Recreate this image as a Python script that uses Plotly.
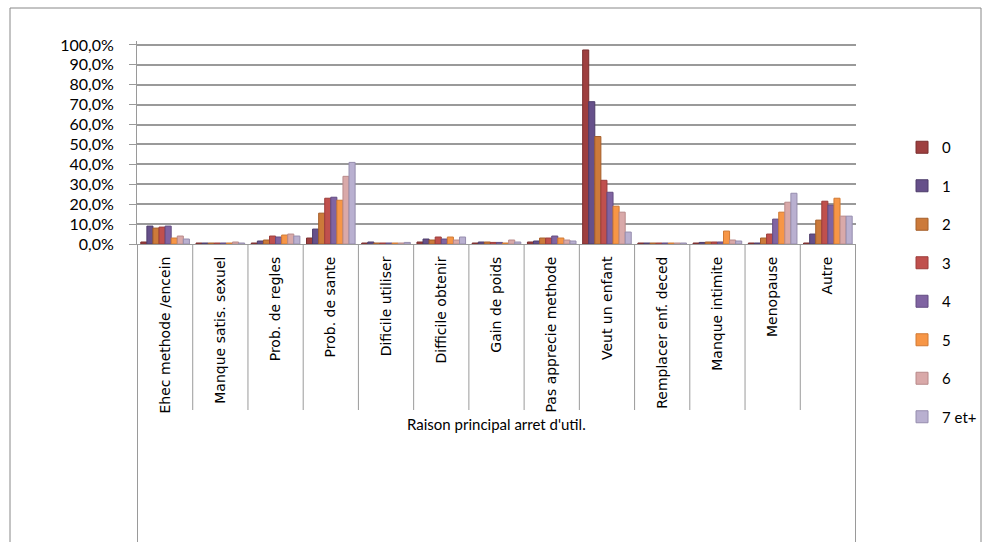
import plotly.graph_objects as go

# Reasons for stopping contraception (one group per reason)
categories = [
    "Ehec methode /encein", "Manque satis. sexuel", "Prob. de regles",
    "Prob. de sante", "Dificile utiliser", "Difficile obtenir",
    "Gain de poids", "Pas apprecie methode", "Veut un enfant",
    "Remplacer enf. deced", "Manque intimite", "Menopause", "Autre",
]

# Series: number of living children
series_names = ["0", "1", "2", "3", "4", "5", "6", "7 et+"]

# Percentages per series, in category order
s0 = [1.0, 0.5, 0.5, 3.0, 0.5, 1.0, 0.5, 1.0, 97.5, 0.5, 0.5, 0.5, 0.5]
s1 = [9.0, 0.5, 1.5, 7.5, 1.0, 2.5, 1.0, 1.5, 71.5, 0.5, 0.8, 0.5, 5.0]
s2 = [8.0, 0.5, 2.0, 15.5, 0.5, 2.0, 1.0, 3.0, 54.0, 0.5, 1.0, 3.0, 12.0]
s3 = [8.5, 0.5, 4.0, 23.0, 0.5, 3.5, 0.8, 3.0, 32.0, 0.5, 1.0, 5.0, 21.5]
s4 = [9.0, 0.5, 3.5, 23.5, 0.5, 2.5, 0.8, 4.0, 26.0, 0.5, 1.0, 12.5, 19.5]
s5 = [3.0, 0.5, 4.5, 22.0, 0.5, 3.5, 0.5, 3.0, 19.0, 0.5, 6.5, 16.0, 23.0]
s6 = [4.0, 1.0, 5.0, 34.0, 0.5, 2.0, 2.0, 2.0, 16.0, 0.5, 2.0, 21.0, 14.0]
s7 = [2.5, 0.5, 4.0, 41.0, 0.8, 3.5, 1.0, 1.5, 6.0, 0.5, 1.5, 25.5, 14.0]
series_values = [s0, s1, s2, s3, s4, s5, s6, s7]

y_tick_values = [0, 10, 20, 30, 40, 50, 60, 70, 80, 90, 100]
y_tick_text = [f"{v:.1f}%".replace(".", ",") for v in y_tick_values]
group_title = "Raison principal arret d'util."

fill_colors = ["#9E3F3F", "#66508A", "#CC7A3A", "#C0504D",
               "#8064A2", "#F79646", "#D9A9A9", "#B9B0D0"]
edge_colors = ["#7A2E2E", "#4D3C6A", "#A55F2A", "#9C3C3A",
               "#634C82", "#D07A34", "#B88A8A", "#968DAE"]

fig = go.Figure()
for name, vals, fc, ec in zip(series_names, series_values, fill_colors, edge_colors):
    fig.add_trace(go.Bar(
        x=categories, y=vals, name=name, legendgroup=name,
        marker=dict(color=fc, line=dict(color=ec, width=1)),
    ))

axis_grey = "#9A9A9A"
plot_w = 719.0  # plot area size in px, used to express offsets in paper units
plot_h = 203.0

shapes = []
# Separators between categories below the axis
n = len(categories)
for i in range(n + 1):
    outer = i in (0, n)
    shapes.append(dict(
        type="line", xref="x", yref="paper",
        x0=i - 0.5, x1=i - 0.5, y0=0,
        y1=-(300.0 / plot_h) if outer else -(166.0 / plot_h),
        line=dict(color=axis_grey, width=1),
    ))
# Outer chart frame
shapes.append(dict(
    type="rect", xref="paper", yref="paper",
    x0=(10 - 137) / plot_w, x1=(981 - 137) / plot_w,
    y0=-(310.0 / plot_h), y1=(244 - 8) / plot_h,
    line=dict(color="#888888", width=1), fillcolor="rgba(0,0,0,0)",
    layer="below",
))

fig.update_layout(
    width=982, height=542,
    margin=dict(l=137, r=126, t=41, b=298, autoexpand=False),
    paper_bgcolor="white", plot_bgcolor="white",
    barmode="group", bargap=0.12, bargroupgap=0.0,
    font=dict(family="Lato, 'Open Sans', sans-serif", size=15, color="#000000"),
    showlegend=True,
    legend=dict(
        x=1.064, y=(244 - 131) / plot_h, xanchor="left", yanchor="top",
        font=dict(size=15), tracegroupgap=16, maxheight=520,
        itemwidth=30, bgcolor="rgba(0,0,0,0)",
    ),
    xaxis=dict(
        type="category", tickangle=-90,
        tickfont=dict(family="'DejaVu Sans', Verdana, sans-serif", size=14),
        showline=True, linecolor=axis_grey, linewidth=1,
        ticks="", showgrid=False, ticklabelstandoff=6,
    ),
    yaxis=dict(
        range=[0, 102], tickvals=y_tick_values, ticktext=y_tick_text,
        tickfont=dict(family="Lato, sans-serif", size=16),
        showgrid=True, gridcolor=axis_grey, gridwidth=2,
        showline=True, linecolor=axis_grey, linewidth=1,
        ticks="outside", ticklen=7, tickcolor=axis_grey,
        ticklabelstandoff=12, zeroline=False,
    ),
    shapes=shapes,
    annotations=[dict(
        text=group_title, xref="paper", yref="paper",
        x=0.5, y=-(180.0 / plot_h), xanchor="center", yanchor="middle",
        showarrow=False, font=dict(family="Lato, sans-serif", size=15),
    )],
)

fig.write_html("out.html")
